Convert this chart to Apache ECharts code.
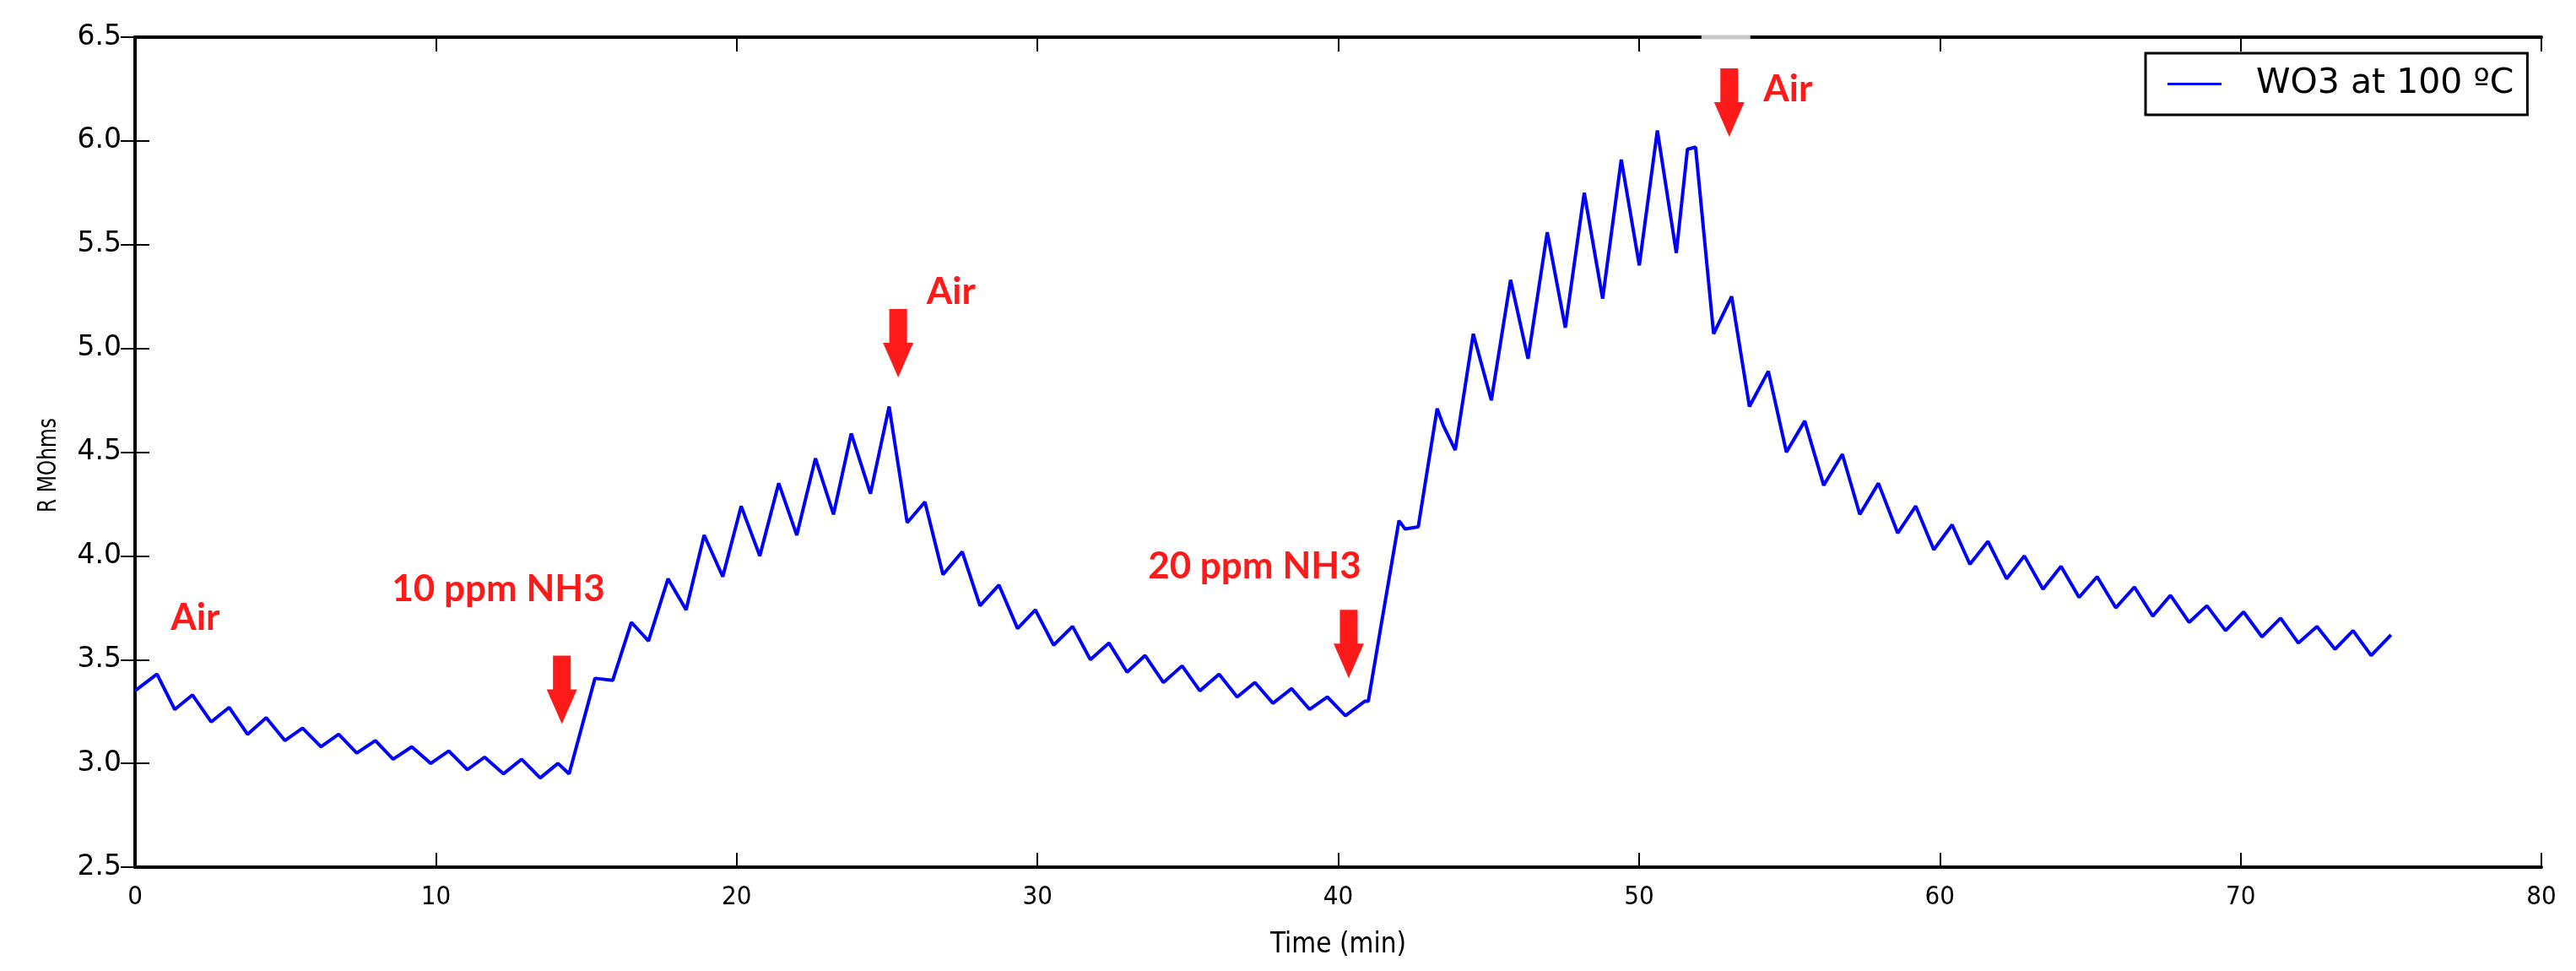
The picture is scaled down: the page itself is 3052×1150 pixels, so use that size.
<!DOCTYPE html>
<html>
<head>
<meta charset="utf-8">
<script src="https://cdn.jsdelivr.net/npm/echarts@6/dist/echarts.min.js"></script>
<style>
html,body{margin:0;padding:0;background:#fff;}
#chart{width:3052px;height:1150px;}
</style>
</head>
<body>
<div id="chart"></div>
<script>
// ---- data ----
var seriesName = 'WO3 at 100 ºC';
var yAxisTitle = 'R MOhms';
var xAxisTitle = 'Time (min)';
var timeMin = [0,0.73,1.32,1.91,2.53,3.13,3.74,4.36,4.98,5.57,6.18,6.77,7.37,7.99,8.58,9.20,9.83,10.43,11.05,11.62,12.25,12.85,13.47,14.06,14.43,15.29,15.88,16.50,17.07,17.72,18.32,18.92,19.54,20.15,20.77,21.40,22.00,22.62,23.22,23.81,24.45,25.07,25.67,26.26,26.86,27.50,28.09,28.72,29.34,29.93,30.54,31.17,31.76,32.38,32.98,33.58,34.19,34.81,35.40,36.04,36.64,37.23,37.83,38.45,39.05,39.64,40.24,40.89,41.00,41.42,42.02,42.22,42.66,43.29,43.49,43.89,44.49,45.09,45.73,46.31,46.95,47.55,48.18,48.79,49.41,50.01,50.61,51.24,51.61,51.88,52.48,53.08,53.67,54.30,54.90,55.51,56.14,56.76,57.34,57.96,58.60,59.20,59.80,60.41,61.00,61.60,62.22,62.81,63.43,64.03,64.63,65.23,65.85,66.47,67.08,67.67,68.29,68.88,69.50,70.10,70.71,71.33,71.92,72.54,73.14,73.74,74.34,75.00];
var resistance = [3.35,3.43,3.26,3.33,3.20,3.27,3.14,3.22,3.11,3.17,3.08,3.14,3.05,3.11,3.02,3.08,3.00,3.06,2.97,3.03,2.95,3.02,2.93,3.00,2.95,3.41,3.40,3.68,3.59,3.89,3.74,4.10,3.90,4.24,4.00,4.35,4.10,4.47,4.20,4.59,4.30,4.72,4.16,4.26,3.91,4.02,3.76,3.86,3.65,3.74,3.57,3.66,3.50,3.58,3.44,3.52,3.39,3.47,3.35,3.43,3.32,3.39,3.29,3.36,3.26,3.32,3.23,3.30,3.30,3.66,4.17,4.13,4.14,4.71,4.63,4.51,5.07,4.75,5.33,4.95,5.56,5.10,5.75,5.24,5.91,5.40,6.05,5.46,5.96,5.97,5.07,5.25,4.72,4.89,4.50,4.65,4.34,4.49,4.20,4.35,4.11,4.24,4.03,4.15,3.96,4.07,3.89,4.00,3.84,3.95,3.80,3.90,3.75,3.85,3.71,3.81,3.68,3.76,3.64,3.73,3.61,3.70,3.58,3.66,3.55,3.64,3.52,3.62];
var xTicks = [0,10,20,30,40,50,60,70,80];
var yTicks = [2.5,3.0,3.5,4.0,4.5,5.0,5.5,6.0,6.5];
// annotations: label text with its centre in data units, arrows by their tip in data units
var labelTexts = ['Air','10 ppm NH3','Air','20 ppm NH3','Air'];
var labelTime  = [2.0, 12.08, 27.13, 37.22, 54.95];
var labelValue = [3.70, 3.84, 5.27, 3.95, 6.25];
var arrowTime  = [14.19, 25.37, 40.35, 53.0];
var arrowValue = [3.19, 4.86, 3.41, 6.02];

var points = timeMin.map(function(t,i){return [t, resistance[i]];});

var chart = echarts.init(document.getElementById('chart'), null, {renderer:'canvas'});
var tickStyle = {show:true, inside:true, length:17, lineStyle:{color:'#000', width:2}};
var lineAxis = {show:true, lineStyle:{color:'#000', width:4}};
var option = {
  backgroundColor:'#fff',
  animation:false,
  grid:{left:160, right:41, top:44, bottom:123, containLabel:false},
  legend:{
    show:true, data:[{name:seriesName, icon:'rect'}], left:2542, top:63,
    borderColor:'#000', borderWidth:3, borderRadius:0,
    padding:[16,16,16,26], itemWidth:64, itemHeight:3,
    itemStyle:{color:'#0000ff'},
    textStyle:{fontFamily:'DejaVu Sans', fontSize:41, color:'#000', padding:[0,0,0,36]}
  },
  xAxis:[{
    type:'value', min:xTicks[0], max:xTicks[xTicks.length-1], interval:10, position:'bottom',
    name:xAxisTitle, nameLocation:'middle', nameGap:76,
    nameTextStyle:{fontFamily:'DejaVu Sans Condensed, DejaVu Sans', fontSize:33, color:'#000'},
    axisLine:lineAxis, axisTick:tickStyle, splitLine:{show:false},
    axisLabel:{margin:20, fontFamily:'DejaVu Sans Condensed, DejaVu Sans', fontSize:31, color:'#000'}
  },{
    type:'value', min:xTicks[0], max:xTicks[xTicks.length-1], interval:10, position:'top',
    axisLine:lineAxis, axisTick:tickStyle, splitLine:{show:false}, axisLabel:{show:false}
  }],
  yAxis:[{
    type:'value', min:yTicks[0], max:yTicks[yTicks.length-1], interval:0.5, position:'left',
    axisLine:lineAxis, axisTick:tickStyle, splitLine:{show:false},
    axisLabel:{margin:16, fontFamily:'DejaVu Sans', fontSize:33, color:'#000',
      formatter:function(v){return v.toFixed(1);}}
  },{
    type:'value', min:yTicks[0], max:yTicks[yTicks.length-1], interval:0.5, position:'right',
    axisLine:lineAxis, axisTick:tickStyle, splitLine:{show:false}, axisLabel:{show:false}
  }],
  series:[{
    name:seriesName, type:'line', data:points, showSymbol:false, symbol:'none',
    lineStyle:{color:'#0000ff', width:4}, itemStyle:{color:'#0000ff'}
  }]
};
chart.setOption(option);

var red = '#ff1a1a';
var graphics = [];
// y-axis title: tall, condensed lettering as in the reference
graphics.push({type:'text', x:58, y:551, rotation:Math.PI/2, scaleX:0.78, scaleY:1, z:100,
  style:{text:yAxisTitle, fill:'#000', font:'30px "DejaVu Sans"', textAlign:'center', textVerticalAlign:'middle'}});
labelTexts.forEach(function(txt,i){
  var p = chart.convertToPixel({gridIndex:0},[labelTime[i], labelValue[i]]);
  graphics.push({type:'text', x:p[0], y:p[1], z:100,
    style:{text:txt, fill:red, font:'bold 44px Lato, "Open Sans", sans-serif', textAlign:'center', textVerticalAlign:'middle'}});
});
arrowTime.forEach(function(t,i){
  var p = chart.convertToPixel({gridIndex:0},[t, arrowValue[i]]);
  var x=p[0], y=p[1];
  graphics.push({type:'polygon', z:100,
    shape:{points:[[x-10.5,y-81],[x+10.5,y-81],[x+10.5,y-41],[x+18,y-41],[x,y],[x-18,y-41],[x-10.5,y-41]]},
    style:{fill:red}});
});
// light patch on the top frame above the last arrow (as in the reference)
var lastArrow = chart.convertToPixel({gridIndex:0},[arrowTime[3], yTicks[yTicks.length-1]]);
graphics.push({type:'rect', z:100, shape:{x:lastArrow[0]-33, y:lastArrow[1]-2.5, width:58, height:5}, style:{fill:'#c8c8c8'}});
chart.setOption({graphic:graphics});
</script>
</body>
</html>
